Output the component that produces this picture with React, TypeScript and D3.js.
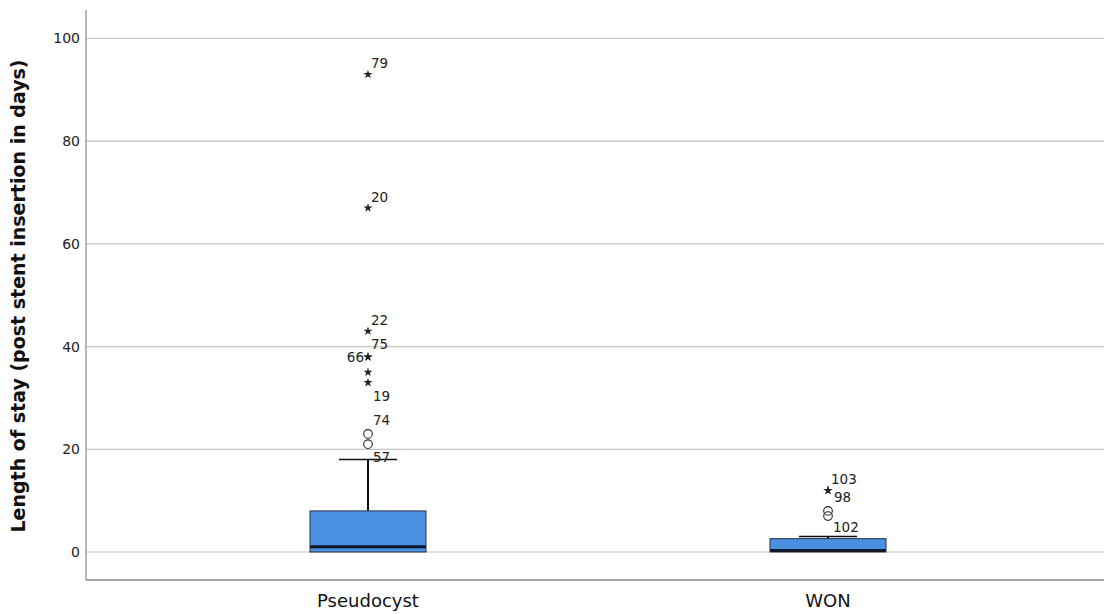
import React, { useRef, useEffect } from "react";
import * as d3 from "d3";

// box statistics per group
const groups = ["Pseudocyst", "WON"];
const q1 = [0, 0];
const medians = [1, 0];
const q3 = [8, 2.6];
const whiskLow = [0, 0];
const whiskHigh = [18, 3];

// outliers: group index, value, kind (o = circle, * = extreme), case label
const outGroup = [0, 0, 0, 0, 0, 0, 0, 0, 0, 1, 1, 1, 1];
const outValue = [93, 67, 43, 38, 35, 33, 23, 21, 38, 12, 12, 8, 7];
const outKind = ["*", "*", "*", "*", "*", "*", "o", "o", "*", "*", "*", "o", "o"];
const outLabel = ["79", "20", "22", "75", "", "19", "74", "57", "66", "103", "98", "102", ""];
// where each label sits relative to its point
const labelSide = ["ur", "ur", "ur", "ur", "", "dr", "ur", "dr", "l", "ur", "r", "dr", ""];

const yTicks = [0, 20, 40, 60, 80, 100];

const App = () => {
  const svgRef = useRef(null);

  useEffect(() => {
    const width = 1104;
    const height = 614;
    const left = 86;
    const right = 1104;
    const top = 10;
    const bottom = 580;

    const svg = d3.select(svgRef.current);
    svg.selectAll("*").remove();
    svg.attr("width", width).attr("height", height);

    const y = d3.scaleLinear().domain([0, 100]).range([552, 38.5]);
    const x = d3.scalePoint().domain(groups).range([left, 1110]).padding(0.613);
    const boxW = 116;
    const font = "DejaVu Sans, sans-serif";

    // gridlines
    svg
      .append("g")
      .selectAll("line")
      .data(yTicks)
      .enter()
      .append("line")
      .attr("x1", left)
      .attr("x2", right)
      .attr("y1", (d) => y(d))
      .attr("y2", (d) => y(d))
      .attr("stroke", "#c4c4c4")
      .attr("stroke-width", 1.2);

    // axes
    const yAxis = svg
      .append("g")
      .attr("transform", `translate(${left},0)`)
      .call(d3.axisLeft(y).tickValues(yTicks).tickSize(0).tickPadding(6));
    yAxis.select(".domain").remove();
    yAxis
      .selectAll("text")
      .attr("font-family", font)
      .attr("font-size", 14)
      .attr("fill", "#222");

    svg
      .append("line")
      .attr("x1", left)
      .attr("x2", left)
      .attr("y1", top)
      .attr("y2", bottom)
      .attr("stroke", "#888")
      .attr("stroke-width", 1.2);
    svg
      .append("line")
      .attr("x1", left)
      .attr("x2", right)
      .attr("y1", bottom)
      .attr("y2", bottom)
      .attr("stroke", "#888")
      .attr("stroke-width", 1.5);

    svg
      .append("g")
      .selectAll("text")
      .data(groups)
      .enter()
      .append("text")
      .attr("x", (d) => x(d))
      .attr("y", 607)
      .attr("text-anchor", "middle")
      .attr("font-family", font)
      .attr("font-size", 18)
      .attr("fill", "#111")
      .text((d) => d);

    svg
      .append("text")
      .attr("transform", `translate(25,${(60 + 532) / 2}) rotate(-90)`)
      .attr("text-anchor", "middle")
      .attr("font-family", font)
      .attr("font-weight", "bold")
      .attr("font-size", 19)
      .attr("fill", "#111")
      .text("Length of stay (post stent insertion in days)");

    // boxes
    groups.forEach((g, i) => {
      const cx = x(g);
      const bg = svg.append("g");
      bg.append("line")
        .attr("x1", cx)
        .attr("x2", cx)
        .attr("y1", y(q3[i]))
        .attr("y2", y(whiskHigh[i]))
        .attr("stroke", "#111")
        .attr("stroke-width", 2);
      bg.append("line")
        .attr("x1", cx - boxW / 4)
        .attr("x2", cx + boxW / 4)
        .attr("y1", y(whiskHigh[i]))
        .attr("y2", y(whiskHigh[i]))
        .attr("stroke", "#111")
        .attr("stroke-width", 1.5);
      bg.append("rect")
        .attr("x", cx - boxW / 2)
        .attr("width", boxW)
        .attr("y", y(q3[i]))
        .attr("height", Math.max(1, y(q1[i]) - y(q3[i])))
        .attr("fill", "#4a8fe0")
        .attr("stroke", "#2a3340")
        .attr("stroke-width", 1);
      bg.append("line")
        .attr("x1", cx - boxW / 2)
        .attr("x2", cx + boxW / 2)
        .attr("y1", Math.min(y(medians[i]), y(0) - 1.5))
        .attr("y2", Math.min(y(medians[i]), y(0) - 1.5))
        .attr("stroke", "#0d1a2e")
        .attr("stroke-width", 3);
      bg.append("line")
        .attr("x1", cx)
        .attr("x2", cx)
        .attr("y1", y(q1[i]))
        .attr("y2", y(whiskLow[i]))
        .attr("stroke", "#111")
        .attr("stroke-width", 2);
    });

    // outliers
    const og = svg.append("g");
    const star = d3.symbol().type(d3.symbolStar).size(26);
    outValue.forEach((v, i) => {
      const cx = x(groups[outGroup[i]]);
      const cy = y(v);
      if (outKind[i] === "*") {
        og.append("path")
          .attr("d", star())
          .attr("transform", `translate(${cx},${cy})`)
          .attr("fill", "#222");
      } else {
        og.append("circle")
          .attr("cx", cx)
          .attr("cy", cy)
          .attr("r", 4.3)
          .attr("fill", "none")
          .attr("stroke", "#222")
          .attr("stroke-width", 1.1);
      }
      if (!outLabel[i]) return;
      const side = labelSide[i];
      let dx = 3;
      let dy = -6;
      let anchor = "start";
      if (side === "l") {
        dx = -4;
        dy = 5;
        anchor = "end";
      } else if (side === "ur" && outKind[i] === "*" && outGroup[i] === 0 && v < 40) {
        dx = 3;
        dy = -8;
      } else if (side === "r") {
        dx = 6;
        dy = 12;
      } else if (side === "dr") {
        dx = 5;
        dy = outGroup[i] === 1 ? 21 : 18;
      } else if (side === "ur" && outKind[i] === "o") {
        dx = 5;
        dy = -9;
      }
      og.append("text")
        .attr("x", cx + dx)
        .attr("y", cy + dy)
        .attr("text-anchor", anchor)
        .attr("font-family", font)
        .attr("font-size", 13.5)
        .attr("fill", "#222")
        .text(outLabel[i]);
    });
  }, []);

  return (
    <div style={{ position: "absolute", left: 0, top: 0 }}>
      <svg ref={svgRef} style={{ display: "block", background: "#fff" }}></svg>
    </div>
  );
};

export default App;
